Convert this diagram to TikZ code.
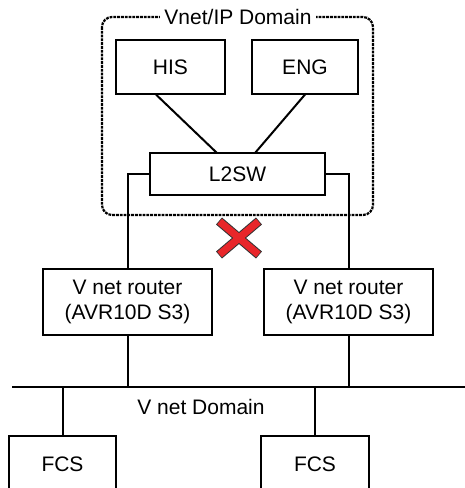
\documentclass[tikz,border=0pt]{standalone}
\usepackage{fontspec}
\setmainfont{Liberation Sans}
\usepackage{tikz}
\definecolor{crossred}{RGB}{232,38,42}
\tikzset{
	box/.style={draw, line width=0.55pt, inner sep=0pt, align=center, font=\fontsize{10.5}{12.5}\selectfont},
	wire/.style={line width=1pt},
}

\begin{document}
\begin{tikzpicture}[x=0.5pt, y=-0.5pt]
		\clip (0,0) rectangle (465,488);
		% Vnet/IP domain
		\draw[line width=1.1pt, dash pattern=on 1.4pt off 0.5pt, rounded corners=5pt] (102,17) rectangle (373,215);
		\node[fill=white, inner xsep=2pt, inner ysep=1pt, font=\fontsize{10.5}{12.5}\selectfont] (dom) at (238,17) {Vnet/IP Domain};
		\node[box, minimum width=54.5pt, minimum height=27pt] (his) at (170.5,67) {HIS};
		\node[box, minimum width=53pt, minimum height=27pt] (eng) at (305,67) {ENG};
		\node[box, minimum width=87.5pt, minimum height=21pt] (sw) at (237.5,174) {L2SW};
		\draw[wire] (his.south) ++(-7.25pt,0) -- (217,153);
		\draw[wire] (eng.south) -- (255,153);
		% routers
		\node[box, minimum width=84.5pt, minimum height=33pt] (rt1) at (127.5,302) {V net router\\(AVR10D S3)};
		\node[box, minimum width=84.5pt, minimum height=33pt] (rt2) at (348.5,302) {V net router\\(AVR10D S3)};
		\draw[wire] (sw.west) -| (rt1.north);
		\draw[wire] (sw.east) -| (rt2.north);
		% V net bus
		\coordinate (busl) at (12,387);
		\coordinate (busr) at (465,387);
		\draw[line width=1.2pt] (busl) -- (busr);
		\node[font=\fontsize{10.5}{12.5}\selectfont] (vdom) at (201,407) {V net Domain};
		\draw[wire] (rt1.south) -- (rt1.south |- busl);
		\draw[wire] (rt2.south) -- (rt2.south |- busl);
		\node[box, minimum width=53.5pt, minimum height=28pt] (fcs1) at (62.5,464) {FCS};
		\node[box, minimum width=54pt, minimum height=28pt] (fcs2) at (315,464) {FCS};
		\draw[wire] (fcs1.north |- busl) -- (fcs1.north);
		\draw[wire] (fcs2.north |- busl) -- (fcs2.north);
		% broken link
		\draw[line width=4.6pt, black!80] (219,221) -- (259,255) (259,221) -- (219,255);
		\draw[line width=3.6pt, crossred] (219.6,221.5) -- (258.4,254.5) (258.4,221.5) -- (219.6,254.5);
	\end{tikzpicture}
\end{document}
